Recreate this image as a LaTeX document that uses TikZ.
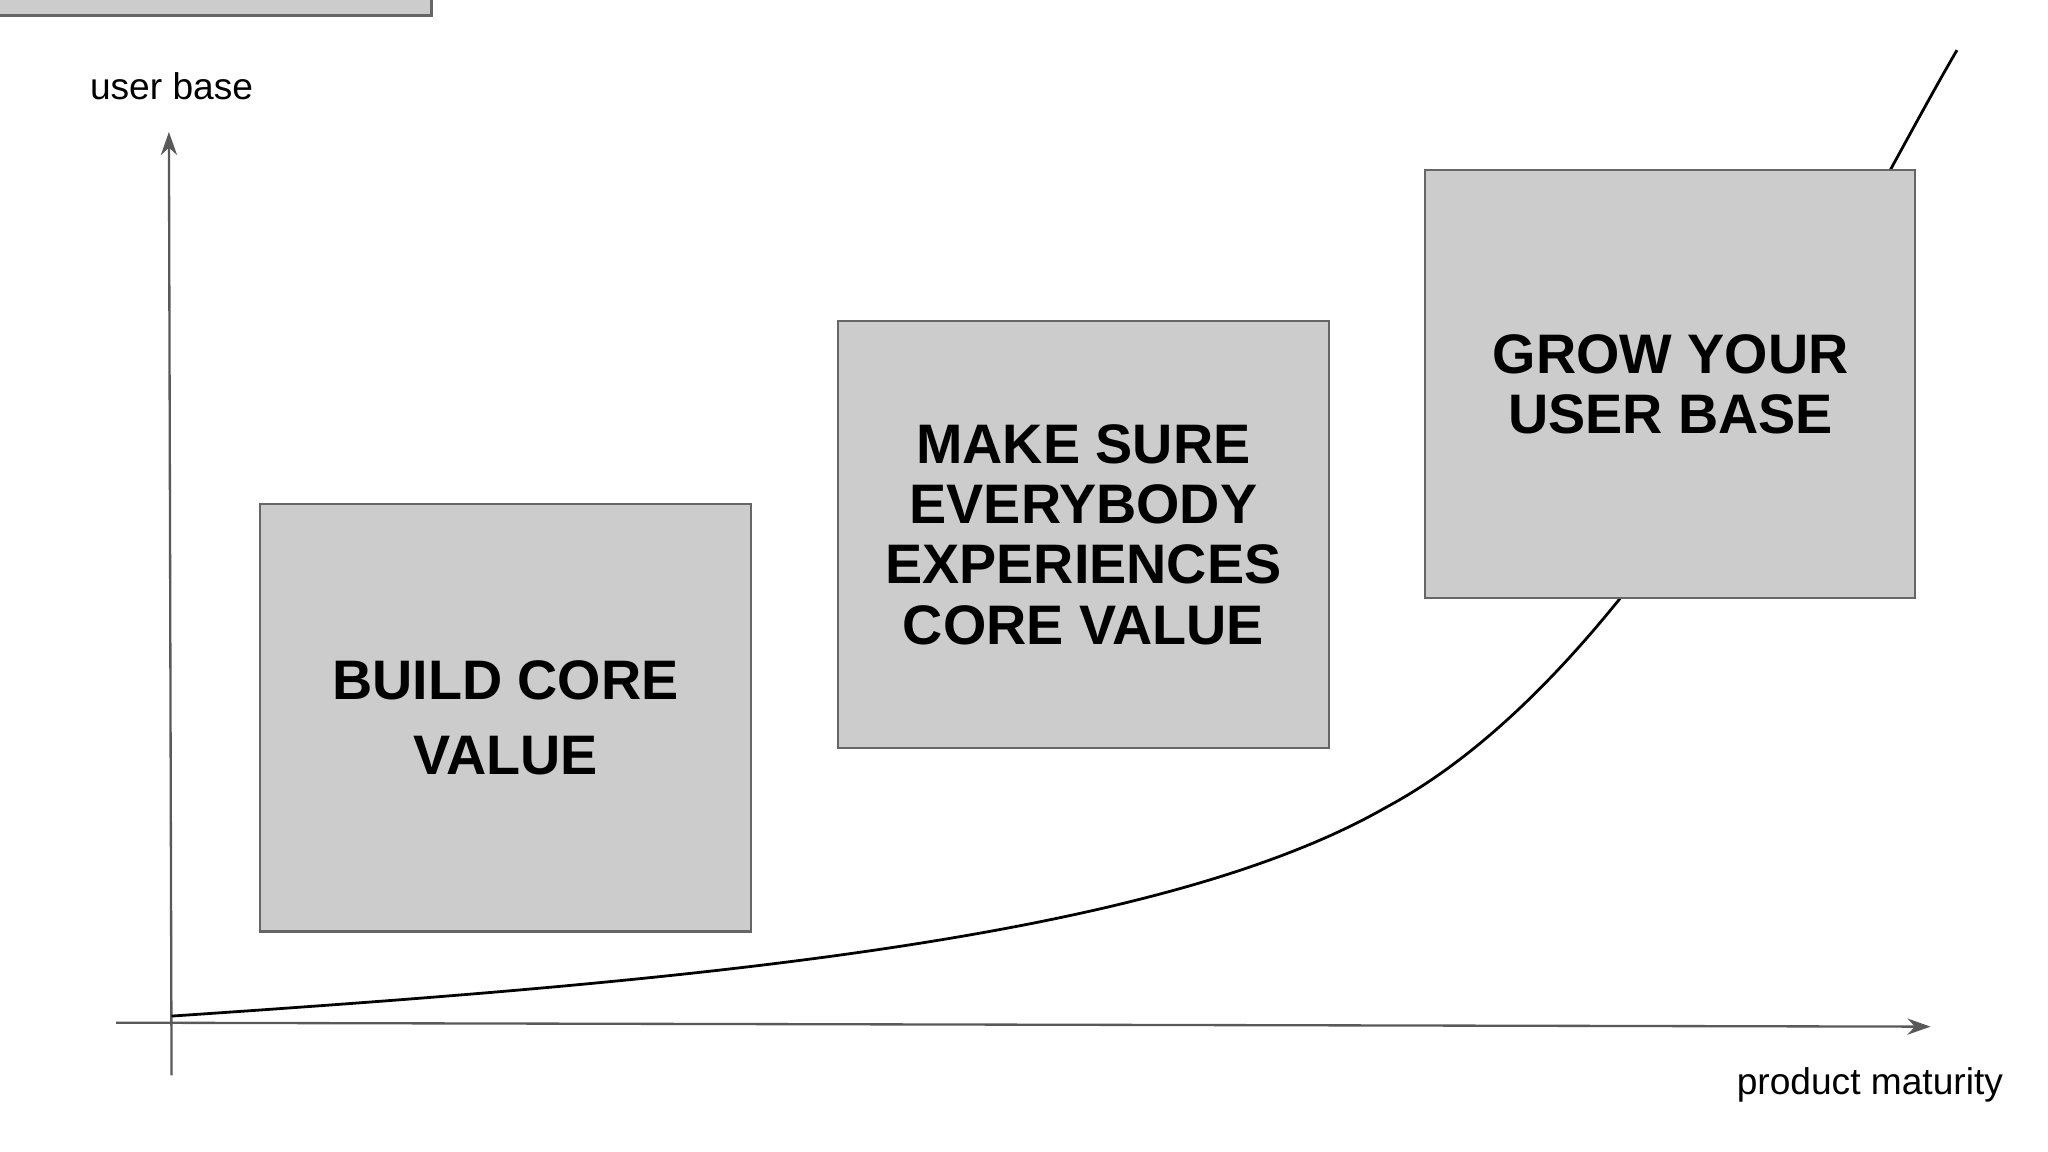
\documentclass[tikz,border=0pt]{standalone}
\usepackage{fontspec}
\setmainfont{Liberation Sans}
\usetikzlibrary{arrows.meta}
\begin{document}
\begin{tikzpicture}[x=0.01cm,y=-0.01cm,
  box/.style={draw=black!60,fill=black!20,line width=0.5pt},
  big/.style={font=\fontsize{12}{14}\selectfont\bfseries,align=center},
  lab/.style={font=\fontsize{8}{10}\selectfont},
  axis/.style={draw=black!65,line width=0.5pt,-{Stealth[length=5pt,width=3.5pt]}}]
\useasboundingbox (0,0) rectangle (1552,873);
\coordinate (yb) at (130,815); \coordinate (yt) at (128,100);
\coordinate (xl) at (88,775); \coordinate (xr) at (1463,778);
\draw[axis] (yb) -- (yt);
\draw[axis] (xl) -- (xr);
\node[lab] (ub) at (130,65) {user base};
\node[lab] (pm) at (1417,822) {product maturity};
\coordinate (c0) at (130,770); \coordinate (c1) at (1050,612); \coordinate (c2) at (1483,38);
\draw[line width=0.6pt] (c0) .. controls (500,745) and (870,715) .. (c1) .. controls (1250,505) and (1400,180) .. (c2);
\node[box,minimum width=372\pgflinewidth] at (0,0) {};
\draw[box] (197,382) rectangle (569,706);
\draw[box] (635,243) rectangle (1007,567);
\draw[box] (1080,129) rectangle (1451,453);
\node[big] (t1) at (383,544) {BUILD CORE\\[2pt]VALUE};
\node[big] (t2) at (821,405) {MAKE SURE\\[-1pt]EVERYBODY\\[-1pt]EXPERIENCES\\[-1pt]CORE VALUE};
\node[big] (t3) at (1266,291) {GROW YOUR\\[-1pt]USER BASE};
\end{tikzpicture}
\end{document}
